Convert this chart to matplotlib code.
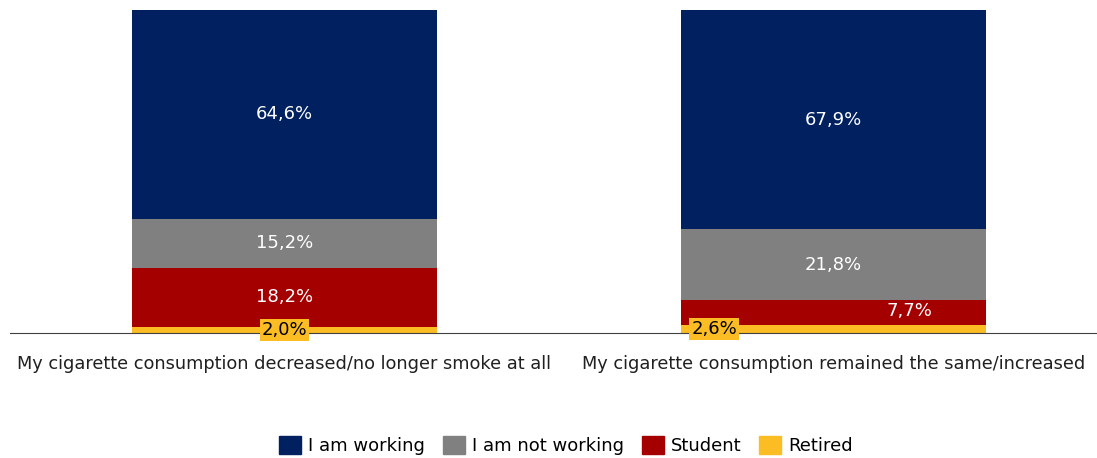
import numpy as np
import matplotlib.pyplot as plt
from matplotlib.patches import Patch

categories = ["My cigarette consumption decreased/no longer smoke at all",
              "My cigarette consumption remained the same/increased"]
series = ["Retired", "Student", "I am not working", "I am working"]
retired = [2.0, 2.6]
student = [18.2, 7.7]
not_working = [15.2, 21.8]
working = [64.6, 67.9]

colors = {"I am working": "#002060", "I am not working": "#808080",
          "Student": "#A50000", "Retired": "#FBBC24"}

plt.rcParams["font.family"] = "DejaVu Sans"

fig = plt.figure(figsize=(10.97, 4.58), dpi=100)
ax = fig.add_axes([0.009, 0.273, 0.991, 0.705])

x = np.arange(len(categories))
w = 0.555
values = {"Retired": retired, "Student": student,
          "I am not working": not_working, "I am working": working}
fs = 13
bottom = np.zeros(len(categories))
for s in series:
    v = np.array(values[s])
    ax.bar(x, v, w, bottom=bottom, color=colors[s], zorder=2)
    for i in range(len(categories)):
        mid = bottom[i] + v[i] / 2
        txt = f"{v[i]:.1f}%".replace(".", ",")
        if s == "Retired":
            xpos = x[i] if i == 0 else x[i] - w / 2 + 0.06
            ax.text(xpos, mid, txt, ha="center", va="center", fontsize=fs,
                    color="black", zorder=4,
                    bbox=dict(boxstyle="square,pad=0.1", fc=colors[s], ec="none"))
        elif s == "Student" and i == 1:
            ax.text(x[i] + w / 2 - 0.14, bottom[i] + v[i] * 0.55, txt, ha="center",
                    va="center", fontsize=fs, color="white", zorder=3)
        else:
            ax.text(x[i], mid, txt, ha="center", va="center", fontsize=fs,
                    color="white", zorder=3)
    bottom += v

ax.set_xlim(-0.5, 1.48)
ax.set_ylim(0, 100)
for sp in ["top", "right", "left"]:
    ax.spines[sp].set_visible(False)
ax.spines["bottom"].set_color("#404040")
ax.set_yticks([])
ax.set_xticks(x)
ax.set_xticklabels(categories, fontsize=12.8, color="#202020")
ax.tick_params(axis="x", length=0, pad=16)

handles = [Patch(color=colors[s]) for s in ["I am working", "I am not working", "Student", "Retired"]]
fig.legend(handles, ["I am working", "I am not working", "Student", "Retired"],
           loc="center", bbox_to_anchor=(0.516, 0.028), ncol=4, frameon=False,
           fontsize=fs, handlelength=1.2, handleheight=1.2, handletextpad=0.4,
           columnspacing=1.0)

fig.savefig("out.png", dpi=100)
